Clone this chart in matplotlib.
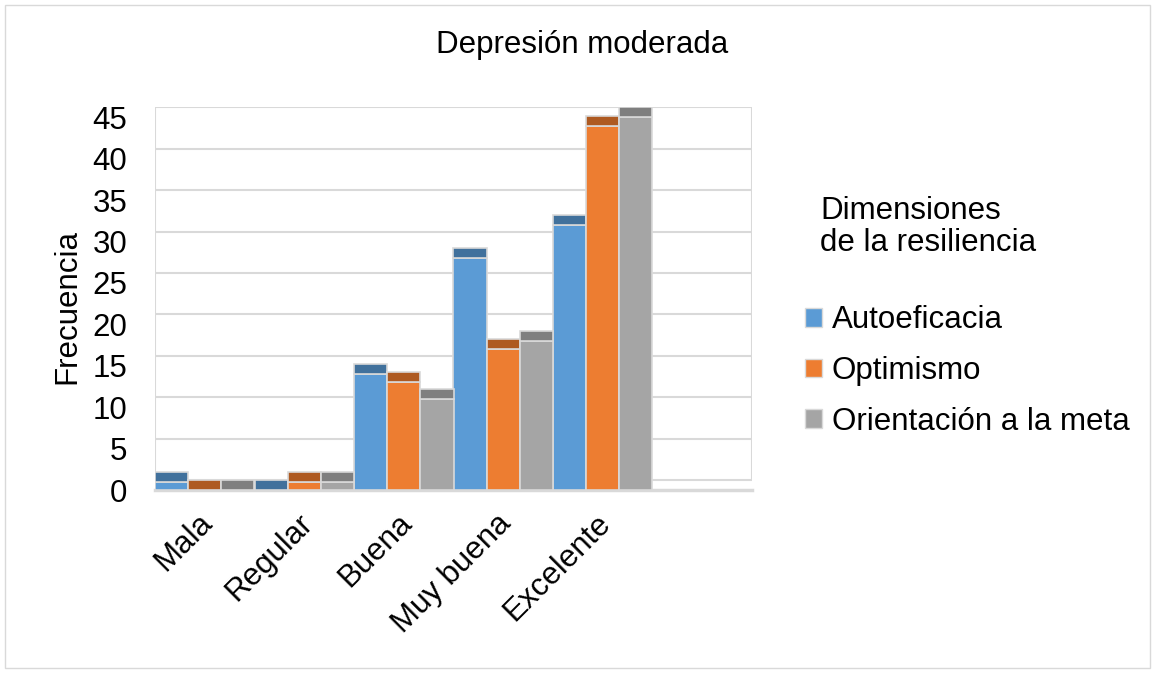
import matplotlib
matplotlib.use("Agg")
import matplotlib.pyplot as plt
from matplotlib.patches import Rectangle, Patch
from matplotlib.transforms import ScaledTranslation
import numpy as np

categories = ["Mala", "Regular", "Buena", "Muy buena", "Excelente"]
series_names = ["Autoeficacia", "Optimismo", "Orientación a la meta"]
autoeficacia = [1, 0, 14, 28, 32]
optimismo = [0, 1, 13, 17, 44]
orientacion = [0, 1, 11, 18, 45]
yticks = [0, 5, 10, 15, 20, 25, 30, 35, 40, 45]

values = [autoeficacia, optimismo, orientacion]
front_colors = ["#5b9bd5", "#ed7d31", "#a5a5a5"]
top_colors = ["#41719c", "#ae5a21", "#7f7f7f"]
edge = "#d9d9d9"
depth = 1.2  # 3D depth in data units
FS = 22.5

plt.rcParams['font.family'] = ['Liberation Sans', 'DejaVu Sans']

fig = plt.figure(figsize=(11.53, 6.73), dpi=100)
ax = fig.add_axes([155/1153, 1 - 490/673, (752-155)/1153, (490-107)/673])

nslots = len(categories) + 1
ax.set_xlim(-0.5, nslots - 0.5)
ax.set_ylim(0, 45 + depth + 0.05)

# back wall and grid
ax.add_patch(Rectangle((-0.5, depth), nslots, 45, facecolor="white",
                       edgecolor=edge, lw=1.5, zorder=0))
for v in yticks[1:-1]:
    ax.plot([-0.5, nslots - 0.5], [v + depth, v + depth], color=edge, lw=1.5, zorder=0.5)
ax.plot([-0.5, nslots - 0.5], [0.05, 0.05], color=edge, lw=2.5, zorder=0.5, clip_on=False)

w = 1 / 3
x = np.arange(len(categories))
for j, (vals, fc, tc) in enumerate(zip(values, front_colors, top_colors)):
    pos = x + (j - 1) * w
    ax.bar(pos, vals, width=w, color=fc, edgecolor=edge, lw=1.2, zorder=2,
           label=series_names[j])
    ax.bar(pos, [depth] * len(vals), bottom=vals, width=w, color=tc,
           edgecolor=edge, lw=1.2, zorder=2)

for s in ax.spines.values():
    s.set_visible(False)
ax.set_yticks(yticks)
ax.set_yticklabels([str(t) for t in yticks], fontsize=FS)
ax.tick_params(axis='y', length=0, pad=20)
ax.set_xticks(x)
ax.set_xticklabels(categories, fontsize=FS, rotation=45, ha='right',
                   rotation_mode='anchor')
ax.tick_params(axis='x', length=0, pad=13)
off = ScaledTranslation(-7/100, 0, fig.dpi_scale_trans)
for lbl in ax.get_xticklabels():
    lbl.set_transform(lbl.get_transform() + off)
ax.set_ylabel("Frecuencia", fontsize=FS)
ax.yaxis.set_label_coords((67-155)/(752-155), 0.48)
ax.yaxis.label.set_va('center')

fig.text(582/1153, 1 - 45/673, "Depresión moderada", fontsize=FS,
         ha='center', va='center')

fig.text(820/1153, 1 - 227/673, "Dimensiones\nde la resiliencia", fontsize=FS,
         ha='left', va='center', linespacing=1.1)

handles = [Patch(facecolor=c, edgecolor=edge, lw=1) for c in front_colors]
leg = ax.legend(handles, series_names,
                loc='center left', bbox_to_anchor=(805/1153, 1 - 371/673),
                bbox_transform=fig.transFigure, frameon=False, fontsize=FS,
                handlelength=0.55, handleheight=0.55, handletextpad=0.3,
                labelspacing=0.66, borderaxespad=0, borderpad=0)

fig.add_artist(Rectangle((5/1153, 5/673), 1145/1153, 663/673, transform=fig.transFigure,
                         facecolor='none', edgecolor=edge, lw=1))

fig.savefig("out.png", dpi=100)
